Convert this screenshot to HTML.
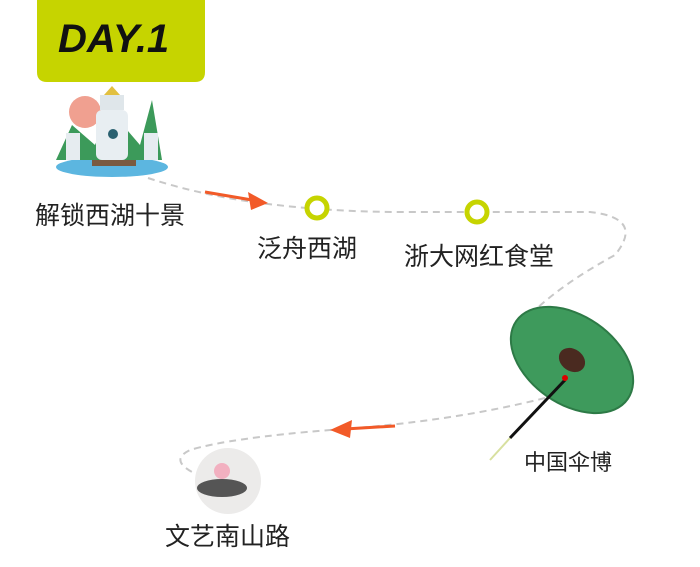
<!DOCTYPE html>
<html><head><meta charset="utf-8"><style>
html,body{margin:0;padding:0;background:#fff;}
svg{display:block}
text{font-family:"Liberation Sans","Noto Sans CJK SC",sans-serif;}
</style></head><body>
<svg width="700" height="567" viewBox="0 0 700 567" xmlns="http://www.w3.org/2000/svg">
<path d="M37 0 H205 V72 Q205 82 195 82 H47 Q37 82 37 72 Z" fill="#c6d400"/>
<text x="58" y="52" font-size="40" font-weight="bold" font-style="italic" fill="#111">DAY.1</text>

<g fill="none" stroke="#c8c8c8" stroke-width="2" stroke-dasharray="7,5">
<path d="M148 178 Q200 195 260 203 Q330 212 400 212 Q500 212 590 212 Q645 218 615 255 Q560 285 530 315"/>
<path d="M545 398 Q450 422 330 430 Q230 438 190 450 Q165 462 205 478"/>
</g>
<path d="M205 192 L252 200" stroke="#f25a28" stroke-width="3"/>
<path d="M268 203 L248 192 L251 210 Z" fill="#f25a28"/>
<path d="M395 426 L345 429" stroke="#f25a28" stroke-width="3"/>
<path d="M330 430 L352 420 L350 438 Z" fill="#f25a28"/>

<circle cx="317" cy="208" r="10" fill="#fff" stroke="#c6d400" stroke-width="5"/>
<circle cx="477" cy="212" r="10" fill="#fff" stroke="#c6d400" stroke-width="5"/>

<ellipse cx="112" cy="167" rx="56" ry="10" fill="#5cb6e0"/>
<circle cx="85" cy="112" r="16" fill="#f0a090"/>
<path d="M56 160 L72 125 L95 145 L110 110 L140 145 L152 100 L162 160 Z" fill="#3c9a5a"/>
<rect x="96" y="110" width="32" height="50" rx="6" fill="#e8eef2"/>
<rect x="100" y="95" width="24" height="15" fill="#dfe6ea"/>
<path d="M104 95 L112 86 L120 95 Z" fill="#e2c040"/>
<circle cx="113" cy="134" r="5" fill="#2a6070"/>
<rect x="66" y="133" width="14" height="27" fill="#e6ecf0"/>
<rect x="144" y="133" width="14" height="27" fill="#e6ecf0"/>
<rect x="92" y="160" width="44" height="6" fill="#7a5a40"/>
<text x="35" y="224" font-size="25" fill="#222">解锁西湖十景</text>
<text x="257" y="257" font-size="25" fill="#222">泛舟西湖</text>
<text x="404" y="265" font-size="25" fill="#222">浙大网红食堂</text>
<text x="524" y="470" font-size="22" fill="#222">中国伞博</text>
<text x="165" y="545" font-size="25" fill="#222">文艺南山路</text>

<g transform="translate(572 360) rotate(35)">
<ellipse rx="68" ry="44" fill="#3e9a5c" stroke="#2d7a46" stroke-width="2"/>
<ellipse rx="14" ry="11" fill="#4a2a20"/>
</g>
<line x1="565" y1="380" x2="510" y2="438" stroke="#111" stroke-width="3"/>
<line x1="510" y1="438" x2="490" y2="460" stroke="#d8e0a0" stroke-width="2"/>
<circle cx="565" cy="378" r="3" fill="#d00"/>

<circle cx="228" cy="481" r="33" fill="#ecebea"/>
<ellipse cx="222" cy="488" rx="25" ry="9" fill="#555"/>
<circle cx="222" cy="471" r="8" fill="#f2b0c0"/>
</svg>
</body></html>
